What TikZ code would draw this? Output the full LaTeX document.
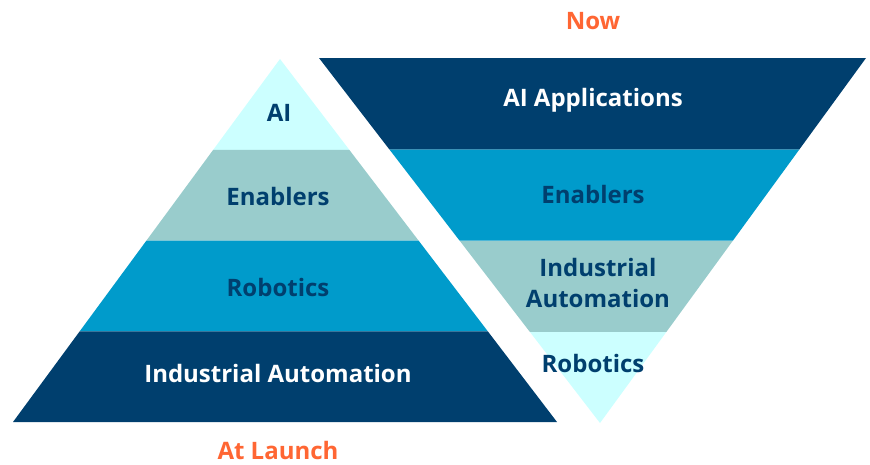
\documentclass[tikz,border=0pt]{standalone}
\usepackage{fontspec}
\setmainfont{Open Sans}
\usetikzlibrary{calc}
\definecolor{navy}{RGB}{0,63,110}
\definecolor{midblue}{RGB}{0,155,203}
\definecolor{teal}{RGB}{153,204,204}
\definecolor{icecyan}{RGB}{204,255,255}
\definecolor{accent}{RGB}{255,102,51}
\tikzset{
  band/.style={fill=#1, draw=none},
  darklabel/.style={font=\fontsize{24}{31}\selectfont\bfseries, text=white, align=center},
  lightlabel/.style={font=\fontsize{24}{31}\selectfont\bfseries, text=navy, align=center},
  caption/.style={font=\fontsize{24}{31}\selectfont\bfseries, text=accent},
}
\begin{document}
\begin{tikzpicture}[x=1pt,y=-1pt]
\useasboundingbox (0,0) rectangle (870,464);
% upright pyramid
\coordinate (La) at (280,59);
\coordinate (Ll) at (13,422);
\coordinate (Lr) at (557,422);
\foreach \n/\t in {1/0.25,2/0.5,3/0.75}{
  \coordinate (Ll\n) at ($(La)!\t!(Ll)$);
  \coordinate (Lr\n) at ($(La)!\t!(Lr)$);
}
\fill[band=icecyan] (La) -- (Lr1) -- (Ll1) -- cycle;
\fill[band=teal] (Ll1) -- (Lr1) -- (Lr2) -- (Ll2) -- cycle;
\fill[band=midblue] (Ll2) -- (Lr2) -- (Lr3) -- (Ll3) -- cycle;
\fill[band=navy] (Ll3) -- (Lr3) -- (Lr) -- (Ll) -- cycle;
% inverted pyramid
\coordinate (Ra) at (600,423);
\coordinate (Rl) at (319,58);
\coordinate (Rr) at (866,58);
\foreach \n/\t in {1/0.25,2/0.5,3/0.75}{
  \coordinate (Rl\n) at ($(Ra)!\t!(Rl)$);
  \coordinate (Rr\n) at ($(Ra)!\t!(Rr)$);
}
\fill[band=icecyan] (Ra) -- (Rr1) -- (Rl1) -- cycle;
\fill[band=teal] (Rl1) -- (Rr1) -- (Rr2) -- (Rl2) -- cycle;
\fill[band=midblue] (Rl2) -- (Rr2) -- (Rr3) -- (Rl3) -- cycle;
\fill[band=navy] (Rl3) -- (Rr3) -- (Rr) -- (Rl) -- cycle;
% labels, left
\node[lightlabel] (lai) at (279,113) {AI};
\node[lightlabel] (len) at (278,196) {Enablers};
\node[lightlabel] (lro) at (278,287) {Robotics};
\node[darklabel] (lia) at (278,373) {Industrial Automation};
\node[caption] (launch) at (278,450) {At Launch};
% labels, right
\node[caption] (now) at (593,21) {Now};
\node[darklabel] (rai) at (593,100) {AI Applications};
\node[lightlabel] (ren) at (593,194) {Enablers};
\node[lightlabel] (ria) at (598,283) {Industrial\\Automation};
\node[lightlabel] (rro) at (593,363) {Robotics};
\end{tikzpicture}
\end{document}
